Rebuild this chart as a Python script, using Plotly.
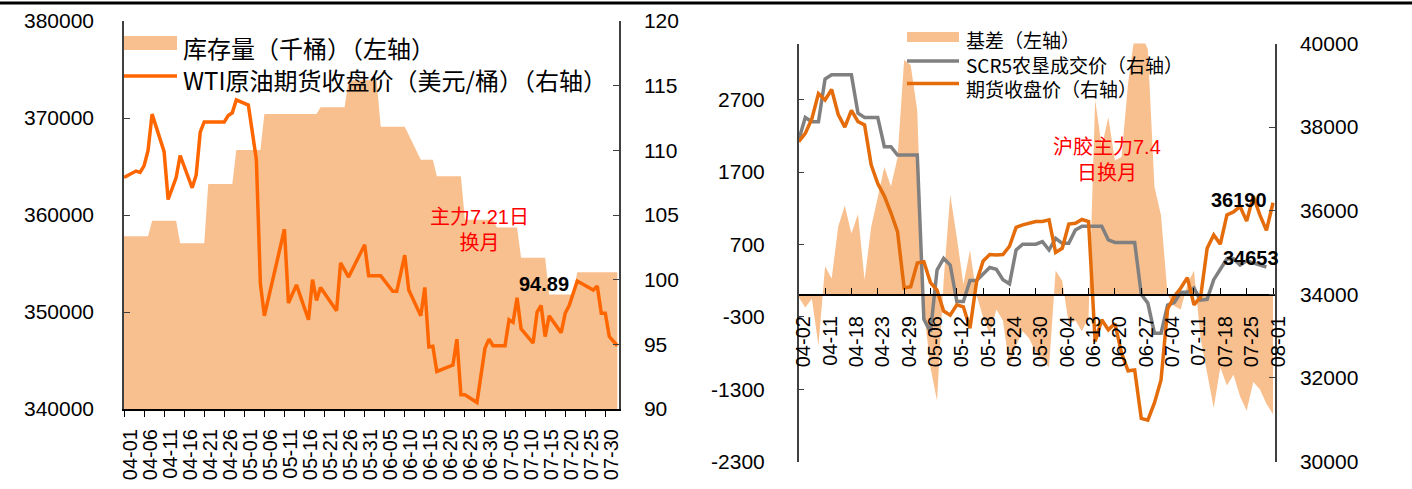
import plotly.graph_objects as go

W, H = 1412, 489
YEAR = "2022"

# colours
AREA = "#F9C08F"
WTI_ORANGE = "#FF6600"
FUT_ORANGE = "#E46C0A"
SCR_GRAY = "#808080"
RED = "#FF0000"
AXIS = "#404040"
FONT = "Liberation Sans, Noto Sans CJK SC"
CJK = "Noto Sans CJK SC"

# ---------------- left chart data ----------------
inv_dates = ["04-01", "04-07", "04-08", "04-14", "04-15", "04-21", "04-22", "04-28",
             "04-29", "05-05", "05-06", "05-19", "05-20", "05-26", "05-27", "06-03",
             "06-04", "06-10", "06-14", "06-17", "06-18", "06-24", "06-25", "07-02",
             "07-03", "07-08", "07-09", "07-15", "07-16", "07-22", "07-23", "08-02"]
inv_values = [357800, 357800, 359400, 359400, 357100, 357100, 363200, 363200,
              366700, 366700, 370400, 370400, 371100, 371100, 373900, 373900,
              369100, 369100, 365700, 365700, 364000, 364000, 359500, 359500,
              358700, 358700, 355600, 355600, 351800, 351800, 354100, 354100]

wti_dates = ["04-01", "04-04", "04-05", "04-06", "04-07", "04-08", "04-11", "04-12",
             "04-14", "04-15", "04-18", "04-19", "04-20", "04-21", "04-26", "04-27",
             "04-28", "04-29", "05-02", "05-03", "05-04", "05-05", "05-06", "05-11",
             "05-12", "05-14", "05-17", "05-18", "05-19", "05-20", "05-24", "05-25",
             "05-27", "05-31", "06-01", "06-04", "06-07", "06-08", "06-10", "06-11",
             "06-14", "06-15", "06-16", "06-17", "06-18", "06-22", "06-23", "06-24",
             "06-25", "06-28", "06-30", "07-01", "07-02", "07-05", "07-06", "07-07",
             "07-08", "07-09", "07-12", "07-13", "07-14", "07-15", "07-16", "07-19",
             "07-20", "07-21", "07-23", "07-27", "07-28", "07-29", "07-30", "07-31",
             "08-02"]
wti_values = [107.9, 108.4, 108.3, 108.8, 110.0, 112.8, 109.9, 106.2,
              107.9, 109.6, 107.1, 108.1, 111.4, 112.2, 112.2, 112.7,
              112.9, 113.9, 113.5, 111.6, 109.3, 99.7, 97.2, 103.9,
              98.2, 99.6, 96.9, 100.0, 98.4, 99.4, 97.6, 101.3,
              100.2, 102.7, 100.3, 100.3, 99.1, 99.1, 101.9, 99.2,
              97.2, 99.4, 94.8, 94.85, 92.9, 93.4, 95.4, 91.1,
              91.1, 90.5, 94.7, 95.4, 94.9, 94.9, 96.9, 96.7,
              98.6, 96.2, 95.1, 97.5, 98.0, 95.6, 97.2, 95.9,
              97.4, 98.0, 99.9, 99.2, 99.5, 97.4, 97.4, 95.6,
              94.89]

# ---------------- right chart data ----------------
right_tick_labels = ["04-02", "04-11", "04-18", "04-23", "04-29", "05-06", "05-12",
                     "05-18", "05-24", "05-30", "06-04", "06-13", "06-20", "06-27",
                     "07-04", "07-11", "07-18", "07-25", "08-01"]
basis_ticks = [-2300, -1300, -300, 700, 1700, 2700]

basis = [-30, -170, -50, -700, 400, 230, 950, 1240, 850, 1120,
         210, 940, 1350, 1770, 1500, 1900, 3250, 3180, 2550, -200,
         -1000, -1460, 200, 1390, 800, 150, 620, 0, -310, -540,
         -200, -350, -1000, -700, -500, -600, -800, -900, -1000, 340,
         200, -400, -350, -500, -300, 2700, 2050, 2460, 1860, 1910,
         2930, 3600, 3600, 3400, 1500, 1100, 0, -150, -200, 150,
         340, -600, -1100, -1560, -1000, -1250, -1100, -1400, -1600, -1200,
         -1300, -1500, -1650]

scr5 = [37690, 38230, 38130, 38130, 39150, 39250, 39250, 39250, 39250, 38330,
        38230, 38230, 38230, 37530, 37530, 37330, 37330, 37330, 37330, 33400,
        33100, 34580, 34860, 34700, 33830, 33830, 34330, 34330, 34480, 34640,
        34600, 34350, 34250, 35060, 35200, 35200, 35200, 35260, 35060, 35340,
        35220, 35220, 35540, 35630, 35620, 35630, 35630, 35300, 35240, 35240,
        35240, 35240, 34000, 33790, 33070, 33070, 33740, 33800, 34050, 34050,
        34150, 33860, 33880, 34350, 34600, 34850, 34850, 34700, 34800, 34750,
        34700, 34653, None]

futures = [37650, 37850, 38200, 38800, 38650, 38900, 38300, 38000, 38400, 38130,
           38050, 37100, 36650, 36350, 35950, 35500, 34150, 34180, 34750, 34780,
           34280, 34100, 33600, 33500, 33750, 33700, 33190, 34300, 34800, 34950,
           34940, 34950, 35150, 35600, 35660, 35700, 35740, 35740, 35780, 35000,
           35100, 35680, 35700, 35790, 35740, 32870, 33390, 33150, 33300, 32600,
           32170, 32190, 31030, 30990, 31400, 31950, 33650, 33950, 34150, 34400,
           33750, 33930, 35100, 35420, 35200, 35900, 35970, 36100, 35750, 36350,
           35900, 35530, 36190]

# ---------------- geometry (pixels of the 1412x489 page) ----------------
def px(x):
    return x / W


def py(y):
    return 1 - y / H


L_X = [px(124), px(619)]
L_Y = [py(409), py(21)]
R_X = [px(798.7), px(1275)]
R_Y = [py(461.5), py(43.5)]
R_LEFT_RANGE = [-2300, 3478]
ZERO_POS = R_Y[0] + (0 - R_LEFT_RANGE[0]) / (R_LEFT_RANGE[1] - R_LEFT_RANGE[0]) * (R_Y[1] - R_Y[0])

idx = list(range(len(basis)))

fig = go.Figure()

fig.add_trace(go.Scatter(
    x=[f"{YEAR}-{d}" for d in inv_dates], y=inv_values,
    mode="lines", fill="tozeroy", fillcolor=AREA, line=dict(width=0, color=AREA),
    xaxis="x", yaxis="y", name="库存量（千桶）（左轴）"
))
fig.add_trace(go.Scatter(
    x=[f"{YEAR}-{d}" for d in wti_dates], y=wti_values,
    mode="lines", line=dict(color=WTI_ORANGE, width=3.5),
    xaxis="x", yaxis="y2", name="WTI原油期货收盘价（美元/桶）（右轴）"
))
fig.add_trace(go.Scatter(
    x=idx, y=basis, mode="lines", fill="tozeroy", fillcolor=AREA,
    line=dict(width=0, color=AREA), xaxis="x2", yaxis="y3", name="基差（左轴）"
))
fig.add_trace(go.Scatter(
    x=idx, y=scr5, mode="lines", line=dict(color=SCR_GRAY, width=3.5),
    xaxis="x2", yaxis="y4", name="SCR5农垦成交价（右轴）"
))
fig.add_trace(go.Scatter(
    x=idx, y=futures, mode="lines", line=dict(color=FUT_ORANGE, width=3.5),
    xaxis="x2", yaxis="y4", name="期货收盘价（右轴）"
))

xfont = dict(family=FONT, size=20, color="black")
yfont = dict(family=FONT, size=21, color="black")

common = dict(showgrid=False, zeroline=False, automargin=False)

fig.update_layout(
    width=W, height=H,
    margin=dict(l=0, r=0, t=0, b=0, pad=0),
    paper_bgcolor="white", plot_bgcolor="white",
    showlegend=False,
    font=dict(family=FONT, color="black"),
    xaxis=dict(
        domain=L_X, anchor="y", type="date",
        range=[f"{YEAR}-04-01", f"{YEAR}-08-02 10:00"],
        tick0=f"{YEAR}-04-01", dtick=5 * 86400000, tickformat="%m-%d",
        tickangle=-90, tickfont=xfont, ticklabelshift=6, ticklabelstandoff=4,
        showline=True, linecolor="black", linewidth=2,
        ticks="outside", ticklen=6, tickcolor="black", **common,
    ),
    yaxis=dict(
        domain=L_Y, anchor="x", range=[340000, 380000], dtick=10000, tickformat="d",
        tickfont=yfont, showline=True, linecolor=AXIS, linewidth=1.5,
        ticks="inside", ticklen=6, tickcolor=AXIS, ticklabelstandoff=24, **common,
    ),
    yaxis2=dict(
        overlaying="y", side="right", anchor="x", range=[90, 120], dtick=5, tickformat="d",
        tickfont=yfont, showline=True, linecolor=AXIS, linewidth=1.5,
        ticks="inside", ticklen=6, tickcolor=AXIS, ticklabelstandoff=19, **common,
    ),
    xaxis2=dict(
        domain=R_X, anchor="free", position=ZERO_POS, range=[0, 72.3],
        tickvals=list(range(0, 73, 4)), ticktext=right_tick_labels,
        tickangle=-90, tickfont=xfont, ticklabelshift=5,
        showline=True, linecolor="black", linewidth=2,
        ticks="inside", ticklen=6, tickcolor="black", ticklabelstandoff=12, **common,
    ),
    yaxis3=dict(
        domain=R_Y, anchor="x2", range=R_LEFT_RANGE,
        tickvals=basis_ticks, ticktext=[str(v) for v in basis_ticks],
        tickfont=yfont, showline=True, linecolor=AXIS, linewidth=1.5,
        ticks="inside", ticklen=6, tickcolor=AXIS, ticklabelstandoff=28, **common,
    ),
    yaxis4=dict(
        overlaying="y3", side="right", anchor="x2", range=[30000, 40000], dtick=2000,
        tickformat="d",
        tickfont=yfont, showline=True, linecolor=AXIS, linewidth=1.5,
        ticks="inside", ticklen=6, tickcolor=AXIS, ticklabelstandoff=19, **common,
    ),
)

shapes = [
    # black rule across the top of the page
    dict(type="line", xref="paper", yref="paper", x0=0, x1=1, y0=py(3), y1=py(3),
         line=dict(color="black", width=3)),
    # left legend symbols
    dict(type="rect", xref="paper", yref="paper", x0=px(124), x1=px(177), y0=py(50), y1=py(36),
         fillcolor=AREA, line=dict(width=0)),
    dict(type="line", xref="paper", yref="paper", x0=px(124), x1=px(177), y0=py(76), y1=py(76),
         line=dict(color=WTI_ORANGE, width=3.5)),
    # right legend symbols
    dict(type="rect", xref="paper", yref="paper", x0=px(907), x1=px(959), y0=py(42), y1=py(32),
         fillcolor=AREA, line=dict(width=0)),
    dict(type="line", xref="paper", yref="paper", x0=px(907), x1=px(959), y0=py(61), y1=py(61),
         line=dict(color=SCR_GRAY, width=3.5)),
    dict(type="line", xref="paper", yref="paper", x0=px(907), x1=px(959), y0=py(83.5), y1=py(83.5),
         line=dict(color=FUT_ORANGE, width=3.5)),
]
fig.update_layout(shapes=shapes)


def note(text, x, y, size, color="black", bold=False, family=FONT, xanchor="center", align="center"):
    if bold:
        text = f"<b>{text}</b>"
    fig.add_annotation(text=text, xref="paper", yref="paper", x=px(x), y=py(y),
                       xanchor=xanchor, yanchor="middle", showarrow=False, align=align,
                       font=dict(family=family, size=size, color=color))


# legends
note("库存量（千桶）（左轴）", 181, 48, 24, family=CJK, xanchor="left")
note("WTI原油期货收盘价（美元/桶）（右轴）", 181, 80, 24, family=CJK, xanchor="left")
note("基差（左轴）<br>SCR5农垦成交价（右轴）<br>期货收盘价（右轴）", 964, 64, 19,
     family=CJK, xanchor="left", align="left")

# callouts
note("主力7.21日<br>换月", 479, 230, 20, color=RED)
note("94.89", 544, 284, 20, bold=True)
note("沪胶主力7.4<br>日换月", 1107, 160, 20, color=RED)
note("36190", 1239, 200, 20, bold=True)
note("34653", 1251, 258, 20, bold=True)

# the page body margin would push the figure 8px in; drop it so the figure sits at the corner
fig.write_html("out.html", config={"displayModeBar": False},
               post_script="document.body.style.margin = '0';")
